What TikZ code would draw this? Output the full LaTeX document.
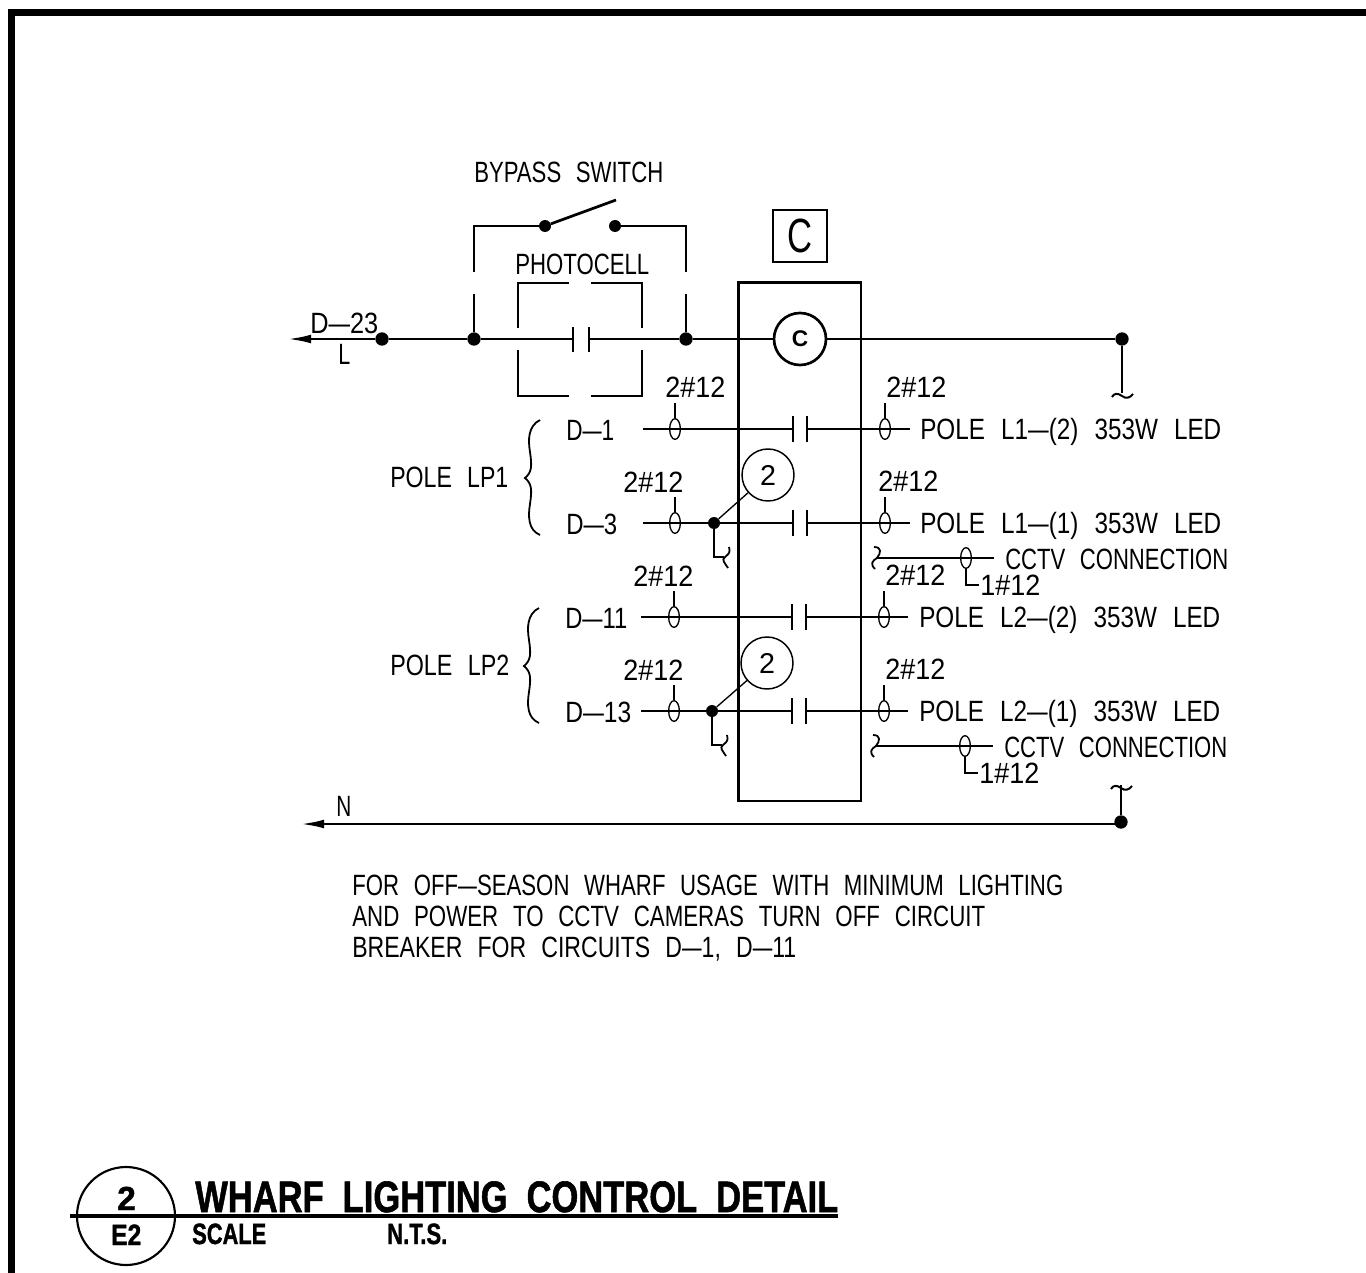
\documentclass[tikz,border=0pt]{standalone}
\usepackage{graphicx}
\usepackage{fontspec}
\setmainfont{Liberation Sans}
\newfontfamily\heavy[BoldFeatures={FakeBold=1.4}]{Liberation Sans}
\usetikzlibrary{arrows.meta,shapes.geometric}
\newcommand{\ftxt}[2]{\resizebox{\dimexpr #1pt*3/4\relax}{\height}{#2}}
\newcommand{\wsp}{\hspace{.66em}}
\newcommand{\tsp}{\hspace{.55em}}
\newcommand{\dsh}{\resizebox{.85em}{\height}{–}}
\tikzset{
  wire/.style={line width=2.05pt,line cap=butt},
  thin wire/.style={line width=1.35pt},
  hair/.style={line width=1pt},
  lab/.style={anchor=base west,inner sep=0pt,yshift=.4pt,font=\fontsize{22}{24}\selectfont},
  blab/.style={anchor=base west,inner sep=0pt,font=\fontsize{33}{36}\selectfont\heavy\bfseries},
  slab/.style={anchor=base west,inner sep=0pt,font=\fontsize{22}{24}\selectfont\heavy\bfseries},
  dot/.style={circle,fill=black,inner sep=0pt,minimum size=10pt},
  tag/.style={circle,draw,line width=1.1pt,inner sep=0pt,minimum size=39pt,fill=none,font=\fontsize{21.5}{24}\selectfont},
  tick/.style={ellipse,draw,line width=1pt,inner sep=0pt,minimum width=8pt,minimum height=15.5pt},
}
\newcommand{\vsquig}[1]{\draw[thin wire] (#1) ++(5,-10) .. controls +(1,5) and +(5,-4) .. ++(-4,10) .. controls +(-4,3) and +(-3,-5) .. ++(3,11);}
\newcommand{\lsquig}[1]{\draw[thin wire] (#1) ++(-2,-11) .. controls +(8,0) and +(4,-5) .. ++(3,11) .. controls +(-5,3) and +(-5,-5) .. ++(-2,11);}
\newcommand{\hsquig}[1]{\draw[line width=1.5pt] (#1) ++(-10,4) .. controls +(2,-4) and +(-4,-3) .. ++(10,-1) .. controls +(4,3) and +(-3,4) .. ++(11,-2);}
\begin{document}
\begin{tikzpicture}[x=.75pt,y=-.75pt]
\useasboundingbox (0,0) rectangle (1366,1273);
% sheet border
\coordinate (bl) at (11.5,1273);
\coordinate (bc) at (11.5,12.5);
\coordinate (br) at (1366,12.5);
\draw[line width=5.6pt,miter limit=10] (bl) -- (bc) -- (br);

% main line
\coordinate (tip) at (287,339);
\node[dot] (jl) at (382,339) {};
\node[dot] (ja) at (474,339) {};
\node[dot] (jb) at (686,339) {};
\node[dot] (jr) at (1122,339) {};
\coordinate (p1) at (573,339);
\coordinate (p2) at (589,339);
\node[circle,draw,line width=2pt,minimum size=39pt,inner sep=0pt,font=\bfseries\fontsize{17}{20}\selectfont] (coil) at (800,339) {C};
\draw[wire,-{Latex[length=18pt,width=6.5pt]}] (jl) -- (tip);
\draw[wire] (jl) -- (ja) -- (p1);
\draw[wire] (p2) -- (jb) -- (coil);
\draw[wire] (coil) -- (jr);
\draw[wire] (573,327) -- (573,352);
\draw[wire] (589,327) -- (589,352);

% bypass switch
\node[dot,minimum size=9pt] (sa) at (545,226) {};
\node[dot,minimum size=9pt] (sb) at (615,226) {};
\coordinate (blade) at (616,200);
\draw[wire] (474,272) -- (474,226) -- (sa);
\draw[wire] (686,272) -- (686,226) -- (sb);
\draw[wire] (474,294) -- (ja);
\draw[wire] (686,294) -- (jb);
\draw[wire] (sa) -- (blade);

% photocell bracket
\draw[wire] (518,328) -- (518,283) -- (569,283);
\draw[wire] (591,283) -- (642,283) -- (642,328);
\draw[wire] (518,350) -- (518,396) -- (569,396);
\draw[wire] (591,396) -- (642,396) -- (642,350);

% contactor box
\node[draw,line width=2pt,minimum width=92pt,minimum height=389pt,inner sep=0pt] (box) at (799.5,541.5) {};
\node[draw,line width=1.4pt,minimum width=40pt,minimum height=39pt,inner sep=0pt] (cbox) at (800,236) {\fontsize{36}{40}\selectfont\ftxt{25}{C}};

% L line tail
\coordinate (ltail) at (1122,393);
\draw[wire] (jr) -- (ltail);
\hsquig{1122,393}

% contact rows: name / y / left wire start / left oval / right oval / right end / plate 1
\foreach \n/\y/\xs/\xo/\xr/\xe/\xp in {a/429/643/675/885/910/793, b/523/643/675/885/910/793, c/617/641/674/884/908/792, d/711/641/674/884/908/792}{
  \coordinate (s\n) at (\xs,\y);
  \coordinate (e\n) at (\xe,\y);
  \coordinate (pl\n) at (\xp,\y);
  \coordinate (pr\n) at (\xp+14,\y);
  \draw[wire] (s\n) -- (pl\n);
  \draw[wire] (pr\n) -- (e\n);
  \draw[wire] (\xp,\y-13) -- (\xp,\y+13);
  \draw[wire] (\xp+14,\y-13) -- (\xp+14,\y+13);
  \node[tick] (ol\n) at (\xo,\y) {};
  \node[tick] (or\n) at (\xr,\y) {};
  \draw[hair] (ol\n.north) -- ++(0,-15);
  \draw[hair] (or\n.north) -- ++(0,-15);
}

% tags with branch
\node[dot,minimum size=9pt] (db) at (714,523) {};
\node[tag] (t1) at (768,475) {2};
\draw[hair] (db) -- (t1);
\coordinate (bb1) at (714,557);
\coordinate (bb2) at (724,557);
\draw[thin wire] (db) -- (bb1) -- (bb2);
\vsquig{724,557}
\node[dot,minimum size=9pt] (dd) at (712,711) {};
\node[tag] (t2) at (767,663) {2};
\draw[hair] (dd) -- (t2);
\coordinate (bd1) at (712,745);
\coordinate (bd2) at (722,745);
\draw[thin wire] (dd) -- (bd1) -- (bd2);
\vsquig{722,745}

% CCTV lines
\coordinate (cc1a) at (876,558); \coordinate (cc1b) at (994,558);
\coordinate (cc2a) at (875,746); \coordinate (cc2b) at (993,746);
\draw[wire] (cc1a) -- (cc1b);
\draw[wire] (cc2a) -- (cc2b);
\lsquig{876,558}
\lsquig{875,746}
\node[tick] (ocb) at (966,558) {};
\node[tick] (ocd) at (965,746) {};
\draw[hair] (ocb.south) -- (966,585) -- (979,585);
\draw[hair] (ocd.south) -- (965,773) -- (978,773);

% neutral
\node[dot] (jn) at (1121,822) {};
\coordinate (ntip) at (300,824);
\coordinate (nq) at (1121,824);
\draw[wire,-{Latex[length=18pt,width=6.5pt]}] (nq) -- (ntip);
\coordinate (ntail) at (1121,785);
\draw[wire] (jn) -- (ntail);
\hsquig{1121,785}

% braces
\coordinate (b1t) at (540,420); \coordinate (b1m) at (525,478); \coordinate (b1b) at (540,535);
\coordinate (b2t) at (539,608); \coordinate (b2m) at (524,666); \coordinate (b2b) at (539,723);
\draw[thin wire] (b1t) .. controls (528,426) and (528,440) .. (530,452) .. controls (532,466) and (532,472) .. (b1m) .. controls (532,484) and (532,490) .. (530,504) .. controls (528,516) and (528,530) .. (b1b);
\draw[thin wire] (b2t) .. controls (527,614) and (527,628) .. (529,640) .. controls (531,654) and (531,660) .. (b2m) .. controls (531,672) and (531,678) .. (529,692) .. controls (527,704) and (527,718) .. (b2b);

% labels
\node[lab] (lbypass) at (474,183) {\ftxt{189}{BYPASS\wsp SWITCH}};
\node[lab] (lphoto) at (515,275) {\ftxt{134}{PHOTOCELL}};
\node[lab] (ld23) at (310,334) {\ftxt{68}{D\dsh 23}};
\node[lab] (ll) at (338,365) {\ftxt{12}{L}};
\node[lab] (ln) at (336,817) {\ftxt{15}{N}};
\node[lab] (lw1) at (665,398) {\ftxt{60}{2\#12}};
\node[lab] (lw2) at (886,398) {\ftxt{60}{2\#12}};
\node[lab] (lw3) at (623,493) {\ftxt{60}{2\#12}};
\node[lab] (lw4) at (878,492) {\ftxt{60}{2\#12}};
\node[lab] (lw5) at (633,587) {\ftxt{60}{2\#12}};
\node[lab] (lw6) at (885,586) {\ftxt{60}{2\#12}};
\node[lab] (lw7) at (623,681) {\ftxt{60}{2\#12}};
\node[lab] (lw8) at (885,680) {\ftxt{60}{2\#12}};
\node[lab] (lw9) at (980,596) {\ftxt{60}{1\#12}};
\node[lab] (lw10) at (979,784) {\ftxt{60}{1\#12}};
\node[lab] (ld1) at (566,441) {\ftxt{48}{D\dsh 1}};
\node[lab] (ld3) at (566,535) {\ftxt{51}{D\dsh 3}};
\node[lab] (ld11) at (565,629) {\ftxt{62}{D\dsh 11}};
\node[lab] (ld13) at (565,723) {\ftxt{66}{D\dsh 13}};
\node[lab] (lp1) at (390,488) {\ftxt{118}{POLE\wsp LP1}};
\node[lab] (lp2) at (390,676) {\ftxt{119}{POLE\wsp LP2}};
\node[lab] (pa) at (920,440) {\ftxt{301}{POLE\wsp L1\dsh(2)\wsp 353W\wsp LED}};
\node[lab] (pb) at (920,534) {\ftxt{301}{POLE\wsp L1\dsh(1)\wsp 353W\wsp LED}};
\node[lab] (pc) at (919,628) {\ftxt{301}{POLE\wsp L2\dsh(2)\wsp 353W\wsp LED}};
\node[lab] (pd) at (919,722) {\ftxt{301}{POLE\wsp L2\dsh(1)\wsp 353W\wsp LED}};
\node[lab] (cc1) at (1005,570) {\ftxt{223}{CCTV\wsp CONNECTION}};
\node[lab] (cc2) at (1004,758) {\ftxt{223}{CCTV\wsp CONNECTION}};

% note
\node[lab] (n1) at (352,896) {\ftxt{711}{FOR\wsp OFF\dsh SEASON\wsp WHARF\wsp USAGE\wsp WITH\wsp MINIMUM\wsp LIGHTING}};
\node[lab] (n2) at (352,927) {\ftxt{633}{AND\wsp POWER\wsp TO\wsp CCTV\wsp CAMERAS\wsp TURN\wsp OFF\wsp CIRCUIT}};
\node[lab] (n3) at (352,958) {\ftxt{444}{BREAKER\wsp FOR\wsp CIRCUITS\wsp D\dsh 1,\wsp D\dsh 11}};

% title block
\node[circle,draw,line width=1.6pt,minimum size=73.5pt,inner sep=0pt] (tc) at (126,1216) {};
\coordinate (ra) at (70,1216);
\coordinate (rb) at (838,1216);
\draw[line width=2.4pt] (ra) -- (rb);
\node[slab,font=\fontsize{25}{28}\selectfont\heavy\bfseries] (tn) at (117,1210) {2};
\node[slab] (te) at (111,1245) {\ftxt{30}{E2}};
\node[blab] (tt) at (195,1212) {\ftxt{643}{WHARF\tsp LIGHTING\tsp CONTROL\tsp DETAIL}};
\node[slab] (ts) at (192,1244) {\ftxt{74}{SCALE}};
\node[slab] (tu) at (387,1244) {\ftxt{60}{N.T.S.}};
\end{tikzpicture}
\end{document}
